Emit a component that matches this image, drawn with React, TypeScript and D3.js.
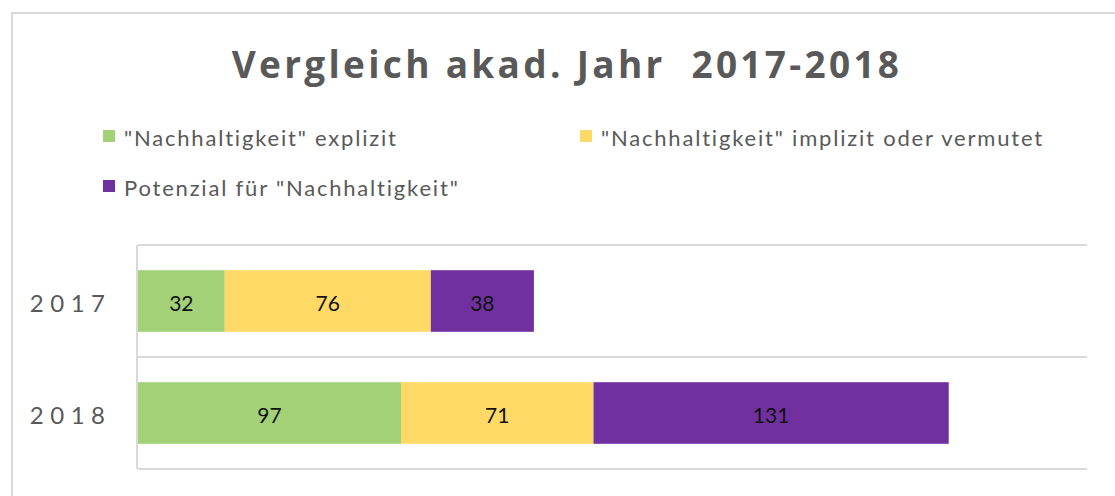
import React from "react";
import * as d3 from "d3";

const categories = ["2017", "2018"];
const seriesNames = [
  '"Nachhaltigkeit" explizit',
  '"Nachhaltigkeit" implizit oder vermutet',
  'Potenzial für "Nachhaltigkeit"',
];
const explizit = [32, 97];
const implizit = [76, 71];
const potenzial = [38, 131];
const colors = ["#A2D177", "#FFD966", "#7030A0"];
const title = "Vergleich akad. Jahr  2017-2018";

export default function App() {
  const W = 1115, H = 496;
  const left = 138, right = 1087, top = 245, bottom = 469;
  const x = d3.scaleLinear().domain([0, 350]).range([left, right]);
  const y = d3.scaleBand().domain(categories).range([top, bottom]).paddingInner(0.45).paddingOuter(0.225);
  const rows = categories.map((c, i) => ({ cat: c, explizit: explizit[i], implizit: implizit[i], potenzial: potenzial[i] }));
  const stack = d3.stack<any>().keys(["explizit", "implizit", "potenzial"])(rows);
  const gridYs = [top, (top + bottom) / 2, bottom];
  const font = "Lato, 'Open Sans', sans-serif";
  const legend = [
    { x: 103, y: 137 },
    { x: 580, y: 137 },
    { x: 103, y: 187 },
  ];
  return (
    <svg width={W} height={H} style={{ position: "absolute", left: 0, top: 0, background: "#fff" }}>
      <rect x={12} y={13} width={W + 20} height={H + 20} fill="#fff" stroke="#D9D9D9" strokeWidth={2} />
      <text x={567} y={78} textAnchor="middle" fontFamily="'Open Sans', sans-serif" fontWeight={700} fontSize={37} fill="#595959" letterSpacing={3.3} style={{ whiteSpace: "pre" }}>
        {title}
      </text>
      {seriesNames.map((s, i) => (
        <g key={s}>
          <rect x={legend[i].x} y={legend[i].y - 7} width={12} height={12} fill={colors[i]} />
          <text x={legend[i].x + 21} y={legend[i].y} dominantBaseline="central" fontFamily={font} fontSize={22} fill="#595959" letterSpacing={1.8}>
            {s}
          </text>
        </g>
      ))}
      {gridYs.map((gy) => (
        <line key={gy} x1={left} x2={right} y1={gy} y2={gy} stroke="#D9D9D9" strokeWidth={2} />
      ))}
      <line x1={left - 1} x2={left - 1} y1={top} y2={bottom} stroke="#D9D9D9" strokeWidth={2} />
      {stack.map((layer, si) =>
        layer.map((d, ci) => {
          const x0 = x(d[0]), x1 = x(d[1]);
          const by = y(categories[ci])!;
          const v = d[1] - d[0];
          return (
            <g key={si + "-" + ci}>
              <rect x={x0} y={by} width={x1 - x0} height={y.bandwidth()} fill={colors[si]} />
              <text x={(x0 + x1) / 2} y={by + y.bandwidth() / 2 + 1} textAnchor="middle" dominantBaseline="central" fontFamily={font} fontSize={21} fill="#111">
                {v}
              </text>
            </g>
          );
        })
      )}
      {categories.map((c) => (
        <text key={c} x={111.5} y={y(c)! + y.bandwidth() / 2 + 1} textAnchor="end" dominantBaseline="central" fontFamily={font} fontSize={24} fill="#595959" letterSpacing={6.5}>
          {c}
        </text>
      ))}
    </svg>
  );
}
